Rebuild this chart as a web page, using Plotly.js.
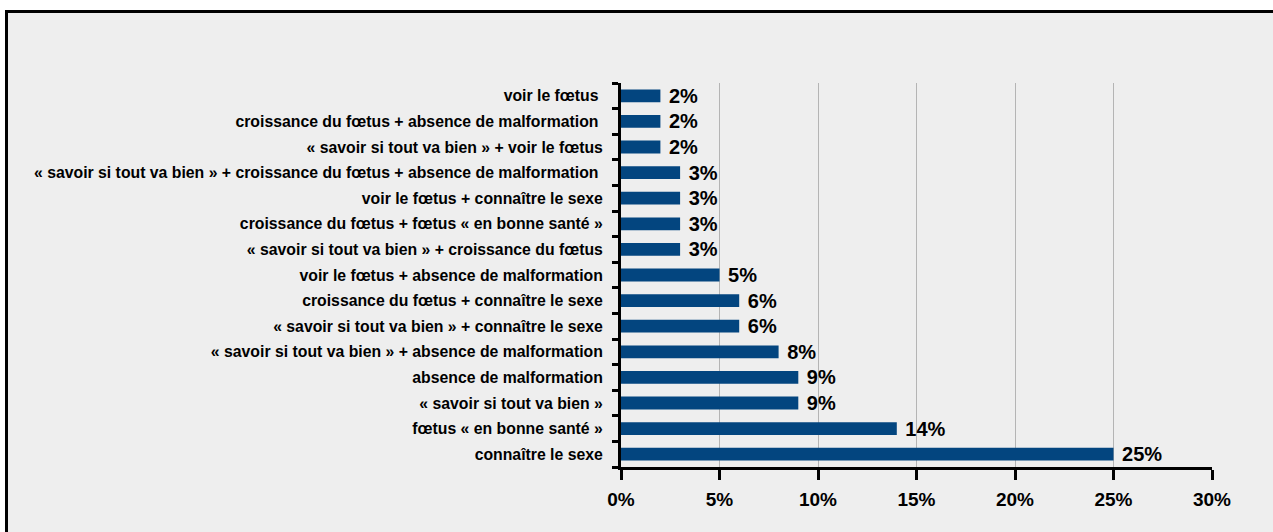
<!DOCTYPE html>
<html>
<head>
<meta charset="utf-8">
<script src="https://cdn.plot.ly/plotly-3.0.1.min.js"></script>
<style>
  html, body { margin: 0; padding: 0; background: #ffffff; width: 1273px; height: 532px; overflow: hidden; }
  #frame { position: absolute; left: 5px; top: 10px; width: 1290px; height: 540px; border: 3px solid #000; background: #eeeeee; box-sizing: border-box; }
  #chart { position: absolute; left: 0; top: 0; width: 1273px; height: 532px; }
</style>
</head>
<body>
<div id="frame"></div>
<div id="chart"></div>
<script>
const categories = [
  "connaître le sexe",
  "fœtus « en bonne santé »",
  "« savoir si tout va bien »",
  "absence de malformation",
  "« savoir si tout va bien » + absence de malformation",
  "« savoir si tout va bien » + connaître le sexe",
  "croissance du fœtus + connaître le sexe",
  "voir le fœtus + absence de malformation",
  "« savoir si tout va bien » + croissance du fœtus",
  "croissance du fœtus + fœtus « en bonne santé »",
  "voir le fœtus + connaître le sexe",
  "« savoir si tout va bien » + croissance du fœtus + absence de malformation ",
  "« savoir si tout va bien » + voir le fœtus",
  "croissance du fœtus + absence de malformation ",
  "voir le fœtus "
];
const percentages = [25, 14, 9, 9, 8, 6, 6, 5, 3, 3, 3, 3, 2, 2, 2];
const xTickValues = [0, 5, 10, 15, 20, 25, 30];

const font = "Liberation Sans, Arial, sans-serif";

Plotly.newPlot("chart", [{
  type: "bar",
  orientation: "h",
  y: categories,
  x: percentages,
  marker: { color: "#03457f" },
  text: percentages.map(v => " " + v + "%"),
  textposition: "outside",
  constraintext: "none",
  cliponaxis: false,
  textfont: { family: font, size: 20, color: "#000", weight: "bold" },
  hoverinfo: "none"
}], {
  width: 1273,
  height: 532,
  margin: { l: 621, r: 61, t: 83, b: 65, pad: 0 },
  paper_bgcolor: "rgba(0,0,0,0)",
  plot_bgcolor: "rgba(0,0,0,0)",
  showlegend: false,
  bargap: 0.5,
  xaxis: {
    range: [0, 30],
    tickvals: xTickValues,
    ticktext: xTickValues.map(v => v + "%"),
    ticks: "outside",
    ticklen: 10,
    tickwidth: 3,
    tickcolor: "#000",
    ticklabelstandoff: 3,
    showline: true,
    linecolor: "#000",
    linewidth: 3,
    showgrid: true,
    gridcolor: "#b4b4b4",
    gridwidth: 1,
    zeroline: false,
    tickfont: { family: font, size: 19, color: "#000", weight: "bold" },
    fixedrange: true
  },
  yaxis: {
    type: "category",
    tickson: "boundaries",
    ticks: "outside",
    ticklen: 6,
    tickwidth: 3,
    tickcolor: "#000",
    ticklabelstandoff: 12,
    showline: true,
    linecolor: "#000",
    linewidth: 3,
    showgrid: false,
    tickfont: { family: font, size: 15.8, color: "#000", weight: "bold" },
    fixedrange: true
  }
}, { displayModeBar: false, staticPlot: true });
</script>
</body>
</html>
